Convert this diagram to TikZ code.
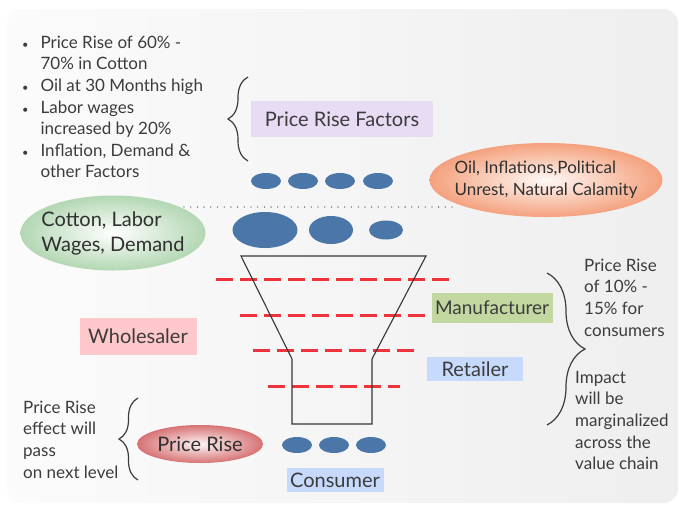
\documentclass[tikz,border=0pt]{standalone}
\usepackage{fontspec}
\setmainfont{Lato}
\usetikzlibrary{shapes.geometric}
\usetikzlibrary{decorations.pathreplacing}
\definecolor{ink}{RGB}{60,60,60}
\definecolor{dotblue}{RGB}{74,118,168}
\definecolor{dashred}{RGB}{238,52,58}
\definecolor{factorbg}{RGB}{232,220,245}
\definecolor{makerbg}{RGB}{195,216,160}
\definecolor{wholebg}{RGB}{255,200,202}
\definecolor{retailbg}{RGB}{200,218,252}
\definecolor{oilorange}{RGB}{240,125,75}
\definecolor{cottongreen}{RGB}{160,205,160}
\definecolor{risered}{RGB}{205,80,82}
\tikzset{
  bluedot/.style={ellipse, fill=dotblue, inner sep=0pt},
  tagbox/.style={rectangle, inner sep=0pt, text=ink, font=\fontsize{20}{23}\selectfont},
  blob/.style={ellipse, shade, inner xsep=-30pt, inner ysep=-12pt, text=ink!80!black, align=left},
  bigbrace/.style={decorate, decoration={brace, amplitude=#1}, draw=ink, line width=1.2pt},
  pricedash/.style={draw=dashred, line width=3pt, dash pattern=on 17pt off 7pt},
  txt/.style={anchor=north west, inner sep=0pt, text=ink, font=\fontsize{17}{21.6}\selectfont}
}
\begin{document}
\begin{tikzpicture}[x=1pt, y=-1pt]
  \useasboundingbox (0,0) rectangle (679,504);
  % backdrop
  \shade[left color=gray!3, right color=gray!13, rounded corners=14pt] (7,9) rectangle (678,503);

  % top: factors
  \node[txt] (facts) at (22,33) {\begin{tabular}{@{}l@{\hspace{12pt}}l@{}}
    {\fontsize{11}{11}\selectfont\textbullet} & Price Rise of 60\% -\\
    & 70\% in Cotton\\
    {\fontsize{11}{11}\selectfont\textbullet} & Oil at 30 Months high\\
    {\fontsize{11}{11}\selectfont\textbullet} & Labor wages\\
    & increased by 20\%\\
    {\fontsize{11}{11}\selectfont\textbullet} & Inflation, Demand \&\\
    & other Factors
  \end{tabular}};
  \coordinate (fbtop) at (248,77);
  \coordinate (fbbot) at (248,161);
  \draw[bigbrace=20] (fbbot) -- (fbtop);
  \node[tagbox, fill=factorbg, minimum width=182pt, minimum height=36pt] (factors) at (342,119) {Price Rise Factors};

  \foreach \cx [count=\i] in {266,303,340,378}
    \node[bluedot, minimum width=30pt, minimum height=16pt] (topdot\i) at (\cx,181) {};

  \node[blob, inner color=oilorange!5, outer color=oilorange!72, minimum width=233pt, minimum height=74pt,
    font=\fontsize{17}{22}\selectfont] (oil) at (546,180) {Oil, Inflations,Political\\Unrest, Natural Calamity};

  % separator
  \coordinate (sepL) at (184,207);
  \coordinate (sepR) at (457,207);
  \draw[ink, line width=1.3pt, line cap=round, dash pattern=on 0pt off 6.7pt] (sepL) -- (sepR);

  \node[blob, inner color=white, outer color=cottongreen!80, minimum width=185pt, minimum height=75pt,
    font=\fontsize{20}{25}\selectfont] (cotton) at (113,233) {Cotton, Labor\\Wages, Demand};

  \node[bluedot, minimum width=65pt, minimum height=36pt] (middot1) at (265,230) {};
  \node[bluedot, minimum width=44pt, minimum height=28pt] (middot2) at (331,230) {};
  \node[bluedot, minimum width=34pt, minimum height=19pt] (middot3) at (386,230) {};

  % funnel
  \foreach \ya/\xa/\xb in {279/216/451, 315/240/428, 350/253/414, 386/268/400}
    \draw[pricedash] (\xa,\ya) -- (\xb,\ya);
  \coordinate (ftl) at (241,256);
  \coordinate (ftr) at (426,256);
  \coordinate (fnl) at (292,359);
  \coordinate (fnr) at (372,359);
  \coordinate (fbl) at (292,424);
  \coordinate (fbr) at (372,424);
  \draw[ink!90!black, line width=1.1pt] (ftl) -- (ftr) -- (fnr) -- (fbr) -- (fbl) -- (fnl) -- cycle;

  \node[tagbox, fill=makerbg, minimum width=121pt, minimum height=30pt, font=\fontsize{19}{22}\selectfont] (maker) at (492,308) {Manufacturer};
  \node[tagbox, fill=wholebg, minimum width=117pt, minimum height=37pt] (whole) at (138,336) {Wholesaler};
  \node[tagbox, fill=retailbg, minimum width=96pt, minimum height=24pt] (retail) at (475,369) {Retailer};

  % right: effect
  \coordinate (rbtop) at (547,273);
  \coordinate (rbbot) at (547,425);
  \draw[bigbrace=38] (rbtop) -- (rbbot);
  \node[txt] (tenpct) at (584,256) {\begin{tabular}{@{}l@{}}
    Price Rise\\ of 10\% -\\ 15\% for\\ consumers
  \end{tabular}};
  \node[txt] (impact) at (575,368) {\begin{tabular}{@{}l@{}}
    Impact\\ will be\\ marginalized\\ across the\\ value chain
  \end{tabular}};

  % bottom
  \node[txt] (passon) at (23,398) {\begin{tabular}{@{}l@{}}
    Price Rise\\ effect will\\ pass\\ on next level
  \end{tabular}};
  \coordinate (lbtop) at (138,398);
  \coordinate (lbbot) at (138,480);
  \draw[bigbrace=19] (lbbot) -- (lbtop);
  \node[blob, inner color=risered!6, outer color=risered!80, minimum width=126pt, minimum height=38pt,
    font=\fontsize{20}{23}\selectfont] (rise) at (200,444) {Price Rise};

  \foreach \cx [count=\i] in {297,334,371}
    \node[bluedot, minimum width=30pt, minimum height=16pt] (lowdot\i) at (\cx,445) {};
  \node[tagbox, fill=retailbg, minimum width=97pt, minimum height=24pt] (consumer) at (335,480) {Consumer};
\end{tikzpicture}
\end{document}
